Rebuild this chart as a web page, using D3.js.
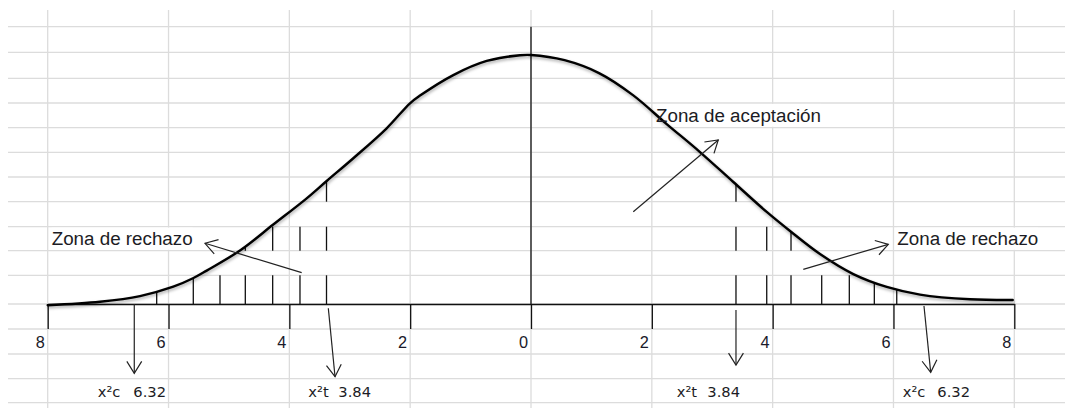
<!DOCTYPE html>
<html>
<head>
<meta charset="utf-8">
<script src="https://cdn.jsdelivr.net/npm/d3@7"></script>
<style>
  html, body { margin: 0; padding: 0; background: #fff; }
  svg { display: block; }
</style>
</head>
<body>
<div id="chart"></div>
<script>
// ---------- data ----------
const xTicks = [-8, -6, -4, -2, 0, 2, 4, 6, 8];
const xTickLabels = ["8", "6", "4", "2", "0", "2", "4", "6", "8"];

// bell curve (axis units, height units)
const curveX = [-8.000, -7.134, -6.472, -5.921, -5.595, -5.368, -4.817, -4.266, -3.713, -3.382,
                -2.941, -2.389, -2.003, -1.837, -1.286, -0.733, -0.182, 0.000,
                0.555, 1.126, 1.688, 2.246, 2.797, 3.349, 3.902, 4.288, 4.784,
                5.335, 5.888, 6.439, 7.267, 7.974];
const curveY = [-0.05, 0.09, 0.32, 0.70, 1.04, 1.35, 2.16, 3.21, 4.27, 4.97,
                5.89, 7.10, 8.11, 8.42, 9.25, 9.82, 10.05, 10.06,
                9.85, 9.33, 8.44, 7.27, 6.14, 4.93, 3.72, 2.95, 2.02,
                1.21, 0.69, 0.38, 0.19, 0.16];

// rejection zone hatch positions (axis units)
const hatchLeftX  = [-6.196, -5.590, -5.148, -4.729, -4.276, -3.824, -3.385];
const hatchRightX = [3.393, 3.902, 4.304, 4.812, 5.269, 5.683, 6.054];

// annotation arrows (axis units, height units)
const arrowX0 = [-6.567, -3.355, 3.393, 6.505, -3.796, 4.507, 1.693];
const arrowY0 = [0.000, -0.174, -0.242, -0.081, 1.265, 1.402, 3.729];
const arrowX1 = [-6.567, -3.244, 3.393, 6.616, -5.396, 5.914, 3.100];
const arrowY1 = [-2.800, -2.937, -2.465, -2.760, 2.453, 2.412, 6.626];

// zone labels
const zoneText = ["Zona de rechazo", "Zona de rechazo", "Zona de aceptación"];
const zoneX = [-7.934, 6.063, 2.069];
const zoneY = [2.384, 2.384, 7.341];

// critical value labels
const critName  = ["x²c", "x²t", "x²t", "x²c"];
const critValue = ["6.32", "3.84", "3.84", "6.32"];
const critNameX = [-7.172, -3.686, 2.412, 6.153];
const critValueX = [-6.583, -3.190, 2.918, 6.726];
const critY = -3.770;

// ---------- layout ----------
const W = 1065, H = 408;
const gridRows = [26.7, 52.3, 78.3, 103, 127.7, 152.3, 177, 201.7, 226.7, 250.7, 275.3, 304, 329, 354, 378.7, 402.7];

const svg = d3.select("#chart").append("svg")
  .attr("width", W).attr("height", H)
  .style("background", "#fff");

const x = d3.scaleLinear().domain([-8, 8]).range([47.7, 1014.3]);
const y = d3.scaleLinear().domain([0, 10]).range([304, 56.5]);

const defs = svg.append("defs");
const f = defs.append("filter").attr("id", "shadow")
  .attr("x", "-5%").attr("y", "-10%").attr("width", "110%").attr("height", "130%");
f.append("feDropShadow").attr("dx", 0.6).attr("dy", 1.8).attr("stdDeviation", 1.6)
  .attr("flood-color", "#000").attr("flood-opacity", 0.35);

// ---------- spreadsheet grid ----------
const grid = svg.append("g").attr("class", "grid");
grid.selectAll("line.h").data(gridRows).join("line").attr("class", "h")
  .attr("x1", 8).attr("x2", W).attr("y1", d => d).attr("y2", d => d)
  .attr("stroke", "#dcdcdc").attr("stroke-width", 1.3);
grid.selectAll("line.v").data(xTicks).join("line").attr("class", "v")
  .attr("x1", d => x(d)).attr("x2", d => x(d)).attr("y1", 10).attr("y2", H)
  .attr("stroke", "#dcdcdc").attr("stroke-width", 1.3);
const gridMask = svg.append("g");

// ---------- hatch lines ----------
function curveAt(u) {
  for (let i = 0; i < curveX.length - 1; i++) {
    if (u >= curveX[i] && u <= curveX[i + 1]) {
      const t = (u - curveX[i]) / (curveX[i + 1] - curveX[i]);
      return curveY[i] + t * (curveY[i + 1] - curveY[i]);
    }
  }
  return 0;
}
const bands = [[gridRows[10], gridRows[11]], [gridRows[8], gridRows[9]], [gridRows[6], gridRows[7]]];
const segs = [];
hatchLeftX.concat(hatchRightX).forEach(u => {
  const top = y(curveAt(u));
  bands.forEach(([b0, b1]) => {
    if (top < b1 - 2) segs.push({ u, y0: Math.max(top, b0), y1: b1 });
  });
});
svg.append("g").selectAll("line").data(segs).join("line")
  .attr("x1", d => x(d.u)).attr("x2", d => x(d.u))
  .attr("y1", d => d.y0).attr("y2", d => d.y1)
  .attr("stroke", "#111").attr("stroke-width", 1.3);

// ---------- axis ----------
const axis = d3.axisBottom(x).tickValues(xTicks).tickSize(25).tickSizeOuter(0)
  .tickFormat((d, i) => xTickLabels[i]);
const ax = svg.append("g").attr("transform", `translate(0,${y(0)})`).call(axis);
ax.select(".domain").attr("stroke", "#111").attr("stroke-width", 1.3);
ax.selectAll(".tick line").attr("stroke", "#111").attr("stroke-width", 1.3);
ax.selectAll(".tick text")
  .attr("text-anchor", "end").attr("x", -3.5).attr("y", 44.3).attr("dy", null)
  .attr("fill", "#1a1a2a")
  .style("font-family", "'Liberation Sans', Arial, sans-serif").style("font-size", "16.3px");

// central vertical line
svg.append("line")
  .attr("x1", x(0)).attr("x2", x(0)).attr("y1", gridRows[0]).attr("y2", y(0))
  .attr("stroke", "#111").attr("stroke-width", 1.3);

// ---------- bell curve ----------
const line = d3.line().x((d, i) => x(curveX[i])).y((d, i) => y(curveY[i])).curve(d3.curveCatmullRom.alpha(0.5));
svg.append("path").datum(curveX).attr("d", line)
  .attr("fill", "none").attr("stroke", "#000").attr("stroke-width", 2.4)
  .attr("stroke-linecap", "round").attr("filter", "url(#shadow)");

// ---------- arrows ----------
const arrows = arrowX0.map((d, i) => ({ x0: x(arrowX0[i]), y0: y(arrowY0[i]), x1: x(arrowX1[i]), y1: y(arrowY1[i]) }));
const ag = svg.append("g").attr("stroke", "#222").attr("stroke-width", 1.2).attr("fill", "none");
ag.selectAll("line").data(arrows).join("line")
  .attr("x1", d => d.x0).attr("y1", d => d.y0).attr("x2", d => d.x1).attr("y2", d => d.y1);
ag.selectAll("path").data(arrows).join("path")
  .attr("d", d => {
    const a = Math.atan2(d.y1 - d.y0, d.x1 - d.x0);
    const L = 14, h = 32 * Math.PI / 180;
    const p1 = [d.x1 - L * Math.cos(a - h), d.y1 - L * Math.sin(a - h)];
    const p2 = [d.x1 - L * Math.cos(a + h), d.y1 - L * Math.sin(a + h)];
    return `M${p1[0]},${p1[1]}L${d.x1},${d.y1}L${p2[0]},${p2[1]}`;
  });

// ---------- labels ----------
const zt = svg.append("g").selectAll("text").data(zoneText).join("text")
  .attr("x", (d, i) => x(zoneX[i])).attr("y", (d, i) => y(zoneY[i]))
  .attr("fill", "#1c1c24")
  .style("font-family", "'Liberation Sans', Arial, sans-serif").style("font-size", "18.8px")
  .text(d => d);

// hide grid lines under overflowing text (spreadsheet style)
zt.each(function () {
  const b = this.getBBox();
  const rowTop = gridRows.filter(r => r < b.y + b.height / 2).pop();
  const rowBot = gridRows.find(r => r > b.y + b.height / 2);
  gridMask.append("rect")
    .attr("x", b.x).attr("width", b.width)
    .attr("y", rowTop + 0.9).attr("height", rowBot - rowTop - 1.8)
    .attr("fill", "#fff");
});

const cg = svg.append("g")
  .style("font-family", "'DejaVu Sans', Verdana, sans-serif").style("font-size", "14.7px")
  .attr("fill", "#1c1c24");
cg.selectAll("text.n").data(critName).join("text").attr("class", "n")
  .attr("x", (d, i) => x(critNameX[i])).attr("y", y(critY)).text(d => d);
cg.selectAll("text.v").data(critValue).join("text").attr("class", "v")
  .attr("x", (d, i) => x(critValueX[i])).attr("y", y(critY)).text(d => d);
</script>
</body>
</html>
